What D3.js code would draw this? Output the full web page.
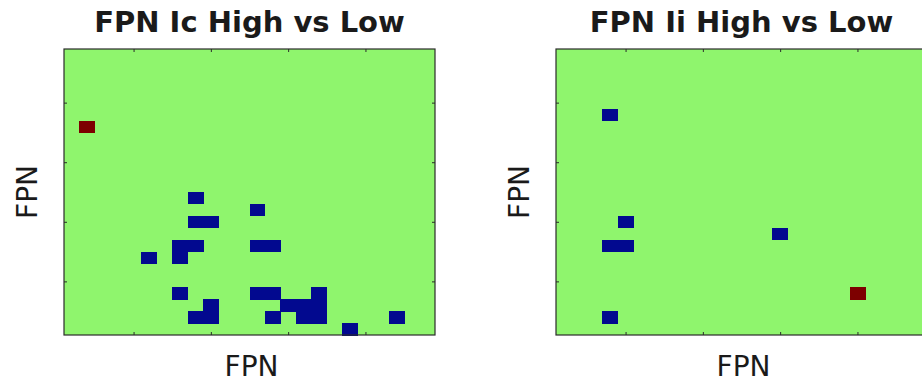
<!DOCTYPE html>
<html>
<head>
<meta charset="utf-8">
<script src="https://cdn.jsdelivr.net/npm/d3@7"></script>
<style>
  html, body { margin: 0; padding: 0; background: #ffffff; }
  svg { display: block; }
  text { font-family: "DejaVu Sans", sans-serif; fill: #1a1a1a; }
</style>
</head>
<body>
<svg id="chart" width="922" height="383"></svg>
<script>
// FPN x FPN connectivity contrast maps (24 x 24 nodes).
// Only non-zero cells are listed: -1 = Low > High, +1 = High > Low.
const nodes = d3.range(1, 25);
const tickValues = [5, 10, 15, 20];

const icCols   = [9, 13, 9, 10, 8, 9, 13, 14, 6, 8, 8, 13, 14, 17, 10, 15, 16, 17, 9, 10, 14, 16, 17, 22, 19, 2];
const icRows   = [13, 14, 15, 15, 17, 17, 17, 17, 18, 18, 21, 21, 21, 21, 22, 22, 22, 22, 23, 23, 23, 23, 23, 23, 24, 7];
const icValues = [-1, -1, -1, -1, -1, -1, -1, -1, -1, -1, -1, -1, -1, -1, -1, -1, -1, -1, -1, -1, -1, -1, -1, -1, -1, 1];

const iiCols   = [4, 5, 4, 5, 15, 4, 20];
const iiRows   = [6, 15, 17, 17, 16, 23, 21];
const iiValues = [-1, -1, -1, -1, -1, -1, 1];

const panels = [
  { title: "FPN Ic High vs Low", cols: icCols, rows: icRows, values: icValues, left: 64 },
  { title: "FPN Ii High vs Low", cols: iiCols, rows: iiRows, values: iiValues, left: 556 }
];

const plotTop = 49, plotW = 371, plotH = 286;
const color = d3.scaleOrdinal().domain([-1, 0, 1]).range(["#02098f", "#8ff56d", "#7d0000"]);

const svg = d3.select("#chart");

panels.forEach(p => {
  const g = svg.append("g").attr("transform", `translate(${p.left},${plotTop})`);

  const x = d3.scaleBand().domain(nodes).range([0, plotW]);
  const y = d3.scaleBand().domain(nodes).range([0, plotH]);
  const xl = d3.scaleLinear().domain([0.5, 24.5]).range([0, plotW]);
  const yl = d3.scaleLinear().domain([0.5, 24.5]).range([0, plotH]);

  // background: every zero-valued cell
  g.append("rect")
    .attr("width", plotW).attr("height", plotH)
    .attr("fill", color(0));

  const cells = p.cols.map((c, i) => ({ col: c, row: p.rows[i], v: p.values[i] }));
  g.selectAll("rect.cell").data(cells).join("rect")
    .attr("class", "cell")
    .attr("x", d => x(d.col))
    .attr("y", d => y(d.row))
    .attr("width", x.bandwidth() + 0.5)
    .attr("height", y.bandwidth() + 0.5)
    .attr("shape-rendering", "crispEdges")
    .attr("fill", d => color(d.v));

  // inward ticks on all four sides, no tick labels
  const axes = [
    { axis: d3.axisBottom(xl), t: `translate(0,${plotH})` },
    { axis: d3.axisTop(xl), t: "translate(0,0)" },
    { axis: d3.axisLeft(yl), t: "translate(0,0)" },
    { axis: d3.axisRight(yl), t: `translate(${plotW},0)` }
  ];
  axes.forEach(a => {
    const ag = g.append("g").attr("transform", a.t)
      .call(a.axis.tickValues(tickValues).tickSize(-3).tickFormat(""));
    ag.select(".domain").remove();
    ag.selectAll(".tick line").attr("stroke", "#2b2b2b").attr("stroke-width", 1);
  });

  g.append("rect")
    .attr("width", plotW).attr("height", plotH)
    .attr("fill", "none").attr("stroke", "#2b2b2b").attr("stroke-width", 1.2);

  g.append("text")
    .attr("x", plotW / 2).attr("y", 32 - plotTop)
    .attr("text-anchor", "middle")
    .style("font-weight", "bold").style("font-size", "29px")
    .text(p.title);

  g.append("text")
    .attr("x", plotW / 2 + 2).attr("y", 376 - plotTop)
    .attr("text-anchor", "middle")
    .style("font-size", "28px")
    .attr("fill", "#222")
    .text("FPN");

  g.append("text")
    .attr("transform", `translate(-27,${plotH / 2}) rotate(-90)`)
    .attr("text-anchor", "middle")
    .style("font-size", "28px")
    .text("FPN");
});
</script>
</body>
</html>
